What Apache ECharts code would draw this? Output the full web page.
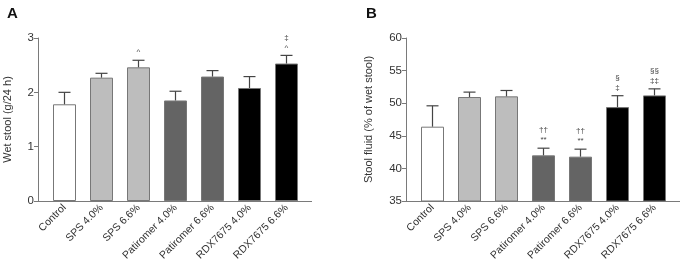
<!DOCTYPE html>
<html>
<head>
<meta charset="utf-8">
<script src="https://cdn.jsdelivr.net/npm/echarts@6/dist/echarts.min.js"></script>
<style>
  html, body { margin: 0; padding: 0; background: #fff; }
  #main { width: 680px; height: 267px; }
</style>
</head>
<body>
<div id="main"></div>
<script>
var categories = ['Control', 'SPS 4.0%', 'SPS 6.6%', 'Patiromer 4.0%', 'Patiromer 6.6%', 'RDX7675 4.0%', 'RDX7675 6.6%'];
var barColors = ['#ffffff', '#bdbdbd', '#bdbdbd', '#646464', '#646464', '#000000', '#000000'];

// panel A - wet stool (g/24 h)
var wetStool = [1.78, 2.27, 2.46, 1.85, 2.29, 2.08, 2.53];
var wetStoolErr = [0.22, 0.08, 0.13, 0.17, 0.11, 0.21, 0.15];
var wetStoolMarks = ['', '', '^', '', '', '', '‡\n^'];
var wetTicks = [0, 1, 2, 3];

// panel B - stool fluid (% of wet stool)
var stoolFluid = [46.4, 50.95, 51.05, 42.0, 41.8, 49.4, 51.2];
var stoolFluidErr = [3.2, 0.75, 0.9, 1.1, 1.15, 1.75, 1.0];
var stoolFluidMarks = ['', '', '', '††\n**', '††\n**', '§\n‡', '§§\n‡‡'];
var fluidTicks = [35, 40, 45, 50, 55, 60];

var font = 'Liberation Sans, Arial, sans-serif';
var axisGray = '#7a7a7a';
var textCol = '#333';

var myChart = echarts.init(document.getElementById('main'));

function barData(vals) {
  var out = [];
  for (var i = 0; i < vals.length; i++) {
    out.push({ value: vals[i], itemStyle: { color: barColors[i] } });
  }
  return out;
}

// whisker (upper only) + significance marks
function errData(vals, errs, marks) {
  var out = [];
  for (var i = 0; i < vals.length; i++) out.push([i, vals[i], vals[i] + errs[i], marks[i]]);
  return out;
}

function renderErr(params, api) {
  var p0 = api.coord([api.value(0), api.value(1)]);
  var p1 = api.coord([api.value(0), api.value(2)]);
  var mark = api.value(3);
  var x = p0[0], half = 6;
  var kids = [
    { type: 'line', shape: { x1: x, y1: p0[1], x2: x, y2: p1[1] }, style: { stroke: '#444', lineWidth: 1.2 } },
    { type: 'line', shape: { x1: x - half, y1: p1[1], x2: x + half, y2: p1[1] }, style: { stroke: '#444', lineWidth: 1.2 } }
  ];
  if (mark) {
    kids.push({
      type: 'text',
      style: {
        x: x, y: p1[1] - 3, text: mark, fill: '#444',
        font: '8px ' + font, align: 'center', verticalAlign: 'bottom', lineHeight: 10
      }
    });
  }
  return { type: 'group', children: kids };
}

function yAxisCfg(gi, name, min, max, interval, gap) {
  return {
    gridIndex: gi, type: 'value', min: min, max: max, interval: interval, offset: 8,
    name: name, nameLocation: 'middle', nameGap: gap, nameRotate: 90,
    nameTextStyle: { fontFamily: font, fontSize: 11, color: textCol },
    axisLine: { show: true, lineStyle: { color: axisGray } },
    axisTick: { show: true, length: 4, lineStyle: { color: axisGray } },
    axisLabel: { fontFamily: font, fontSize: 11.5, color: textCol, margin: 4 },
    splitLine: { show: false }
  };
}

function xAxisCfg(gi) {
  return {
    gridIndex: gi, type: 'category', data: categories,
    axisLine: { show: false },
    axisTick: { show: false },
    axisLabel: { rotate: 45, interval: 0, fontFamily: font, fontSize: 10.5, color: textCol, margin: 5 }
  };
}

var option = {
  animation: false,
  backgroundColor: '#fff',
  title: [
    { text: 'A', left: 2, top: 1, textStyle: { fontFamily: font, fontSize: 15, fontWeight: 'bold', color: '#111' } },
    { text: 'B', left: 361, top: 1, textStyle: { fontFamily: font, fontSize: 15, fontWeight: 'bold', color: '#111' } }
  ],
  grid: [
    { left: 46, top: 38, width: 259, height: 163 },
    { left: 414, top: 38, width: 259, height: 163 }
  ],
  xAxis: [xAxisCfg(0), xAxisCfg(1)],
  yAxis: [
    yAxisCfg(0, 'Wet stool (g/24 h)', wetTicks[0], wetTicks[wetTicks.length - 1], 1, 25),
    yAxisCfg(1, 'Stool fluid (% of wet stool)', fluidTicks[0], fluidTicks[fluidTicks.length - 1], 5, 32)
  ],
  // baseline of each panel runs past the bar area
  graphic: [
    { type: 'line', shape: { x1: 38, y1: 201.5, x2: 312, y2: 201.5 }, style: { stroke: axisGray, lineWidth: 1 } },
    { type: 'line', shape: { x1: 406, y1: 201.5, x2: 680, y2: 201.5 }, style: { stroke: axisGray, lineWidth: 1 } }
  ],
  series: [
    {
      type: 'bar', xAxisIndex: 0, yAxisIndex: 0, barWidth: 23,
      itemStyle: { borderColor: '#777', borderWidth: 1 },
      data: barData(wetStool)
    },
    {
      type: 'custom', xAxisIndex: 0, yAxisIndex: 0, renderItem: renderErr,
      encode: { x: 0, y: [1, 2] }, data: errData(wetStool, wetStoolErr, wetStoolMarks), z: 5
    },
    {
      type: 'bar', xAxisIndex: 1, yAxisIndex: 1, barWidth: 23,
      itemStyle: { borderColor: '#777', borderWidth: 1 },
      data: barData(stoolFluid)
    },
    {
      type: 'custom', xAxisIndex: 1, yAxisIndex: 1, renderItem: renderErr,
      encode: { x: 0, y: [1, 2] }, data: errData(stoolFluid, stoolFluidErr, stoolFluidMarks), z: 5
    }
  ]
};

myChart.setOption(option);
</script>
</body>
</html>
